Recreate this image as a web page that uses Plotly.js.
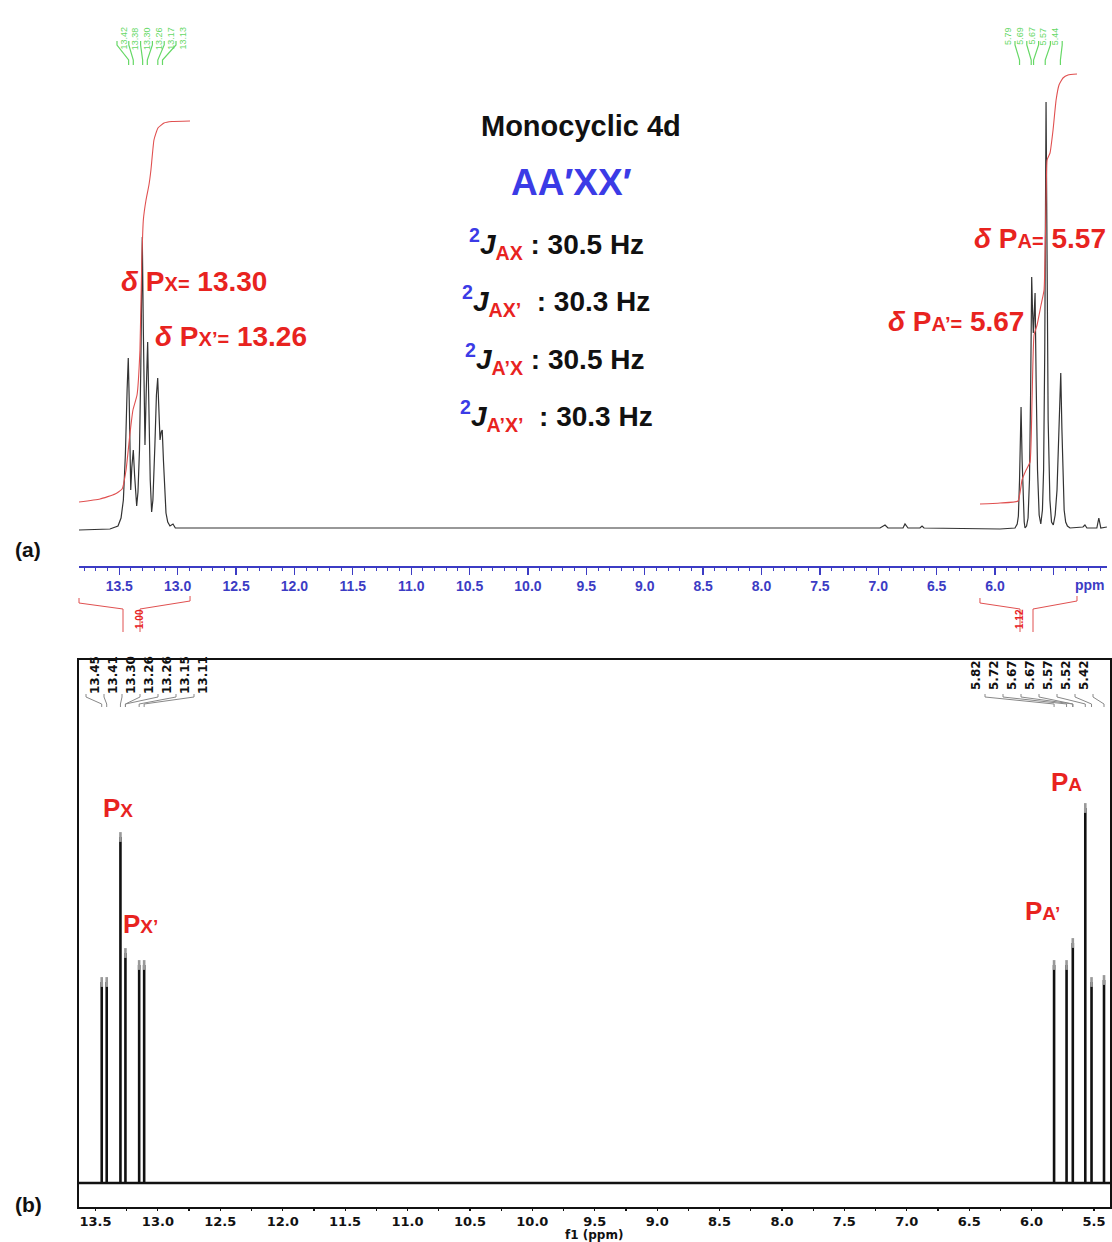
<!DOCTYPE html>
<html><head><meta charset="utf-8">
<script src="https://cdn.plot.ly/plotly-3.0.1.min.js"></script>
<style>html,body{margin:0;padding:0;background:#fff}#chart{width:1112px;height:1242px}</style>
</head><body><div id="chart"></div>
<script>
// ---------- DATA ----------
const specA_ppm = [13.845,13.580,13.511,13.485,13.465,13.448,13.433,13.423,13.415,13.408,13.402,13.393,13.380,13.369,13.358,13.351,13.340,13.327,13.316,13.303,13.294,13.287,13.280,13.270,13.257,13.246,13.235,13.223,13.212,13.195,13.182,13.171,13.161,13.151,13.141,13.132,13.122,13.110,13.100,13.085,13.066,13.040,13.020,12.894,11.952,10.240,8.527,6.985,6.942,6.917,6.788,6.771,6.745,6.643,6.625,6.608,5.957,5.829,5.810,5.800,5.790,5.777,5.768,5.760,5.750,5.743,5.730,5.717,5.705,5.695,5.686,5.679,5.672,5.665,5.657,5.648,5.636,5.622,5.608,5.594,5.584,5.574,5.563,5.553,5.545,5.530,5.516,5.501,5.485,5.469,5.455,5.437,5.427,5.418,5.408,5.395,5.380,5.358,5.247,5.230,5.213,5.128,5.111,5.094,5.042];
const specA_int = [0,1,4,12,30,75,140,172,130,70,40,62,80,55,28,24,38,80,160,293,200,120,85,135,188,120,50,18,30,85,135,152,115,90,98,100,70,35,17,8,4,6,2,2,2,1.5,2,2,5,2,2,6,2,2,4,2,1,2,6,14,50,123,70,30,8,2,4,12,50,140,253,220,197,215,237,150,60,15,6,20,60,180,428,250,110,30,8,5,15,40,95,157,100,50,20,8,4,2,3,5,2,2,12,2,3];
// (a) integral curves
const intL_ppm = [13.845,13.665,13.536,13.476,13.442,13.408,13.383,13.348,13.323,13.308,13.294,13.271,13.246,13.229,13.203,13.169,13.117,13.049,12.894];
const intL_val = [28,31,36,41,60,97,120,135,180,265,310,330,345,360,390,402,407,408.5,409];
const intR_ppm = [6.129,5.957,5.803,5.769,5.734,5.700,5.683,5.666,5.640,5.606,5.580,5.563,5.554,5.529,5.503,5.477,5.452,5.418,5.375,5.298];
const intR_val = [26,27,29,50,60,68,130,195,205,225,240,330,370,377,400,430,445,452,455,456];
const integralValues = ['1.00','1.12'];
// (a) peak picks
const pickA_left  = [13.42,13.38,13.30,13.26,13.17,13.13];
const pickA_right = [5.79,5.69,5.67,5.57,5.44];
const ticksA = [13.5,13.0,12.5,12.0,11.5,11.0,10.5,10.0,9.5,9.0,8.5,8.0,7.5,7.0,6.5,6.0,5.5];
// (b) simulated spectrum lines
const simPpm = [13.45,13.41,13.30,13.26,13.15,13.11,5.82,5.72,5.67,5.57,5.52,5.42];
const simInt = [201,201,346,230,218,218,218,218,240,375,201,203];
const pickB_left  = [13.45,13.41,13.30,13.26,13.26,13.15,13.11];
const pickB_right = [5.82,5.72,5.67,5.67,5.57,5.52,5.42];

// ---------- LAYOUT HELPERS ----------
const W=1112, H=1242;
const px = x => x/W, py = y => 1 - y/H;
const A = {l:79, r:1107, r0:13.845, r1:5.041};
const B = {l:79, r:1110, r0:13.632, r1:5.372};
const axA = p => (A.l + (A.r0-p)/(A.r0-A.r1)*(A.r-A.l))/W;
const axB = p => (B.l + (B.r0-p)/(B.r0-B.r1)*(B.r-B.l))/W;
const RED='#e8231f', BLUE='#3b3be6', AXBLUE='#3c3cc4', GREEN='#66d866';
const FONT='Liberation Sans, Arial, sans-serif';

// ---------- TRACES ----------
const traces = [];
traces.push({x:specA_ppm, y:specA_int, xaxis:'x', yaxis:'y', mode:'lines', line:{color:'#333', width:1.2}, hoverinfo:'skip'});
traces.push({x:intL_ppm, y:intL_val, xaxis:'x', yaxis:'y', mode:'lines', line:{color:'#e05050', width:1.1, shape:'spline', smoothing:0.4}, hoverinfo:'skip'});
traces.push({x:intR_ppm, y:intR_val, xaxis:'x', yaxis:'y', mode:'lines', line:{color:'#e05050', width:1.1, shape:'spline', smoothing:0.4}, hoverinfo:'skip'});
// stick spectrum for (b)
const order = simPpm.map((p,i)=>i).sort((a,b)=>simPpm[b]-simPpm[a]);
const bx=[B.r0], by=[0];
order.forEach(i=>{bx.push(simPpm[i],simPpm[i],simPpm[i]); by.push(0,simInt[i],0);});
bx.push(B.r1); by.push(0);
traces.push({x:bx, y:by, xaxis:'x2', yaxis:'y2', mode:'lines', line:{color:'#111', width:2.6}, hoverinfo:'skip'});
traces.push({x:simPpm, y:simInt, xaxis:'x2', yaxis:'y2', mode:'markers', marker:{symbol:'line-ns', size:7, line:{color:'#999', width:2.6}}, hoverinfo:'skip'});

// ---------- ANNOTATIONS & SHAPES ----------
const ann=[], shapes=[];
function txt(x,y,text,size,color,opts){ ann.push(Object.assign({xref:'paper',yref:'paper',x:px(x),y:py(y),text:text,showarrow:false,xanchor:'center',yanchor:'middle',font:{family:FONT,size:size,color:color}},opts||{})); }
const b = s => '<b>'+s+'</b>';
txt(581,126,b('Monocyclic 4d'),29,'#111');
txt(571,183,b('AA′XX′'),37,BLUE);
const jl = (sub) => b('<sup><span style="color:'+BLUE+'">2</span></sup><i>J</i><sub><span style="color:'+RED+'">'+sub+'</span></sub>');
txt(556,244, jl('AX')+b(' : 30.5 Hz'),28,'#111');
txt(556,301, jl('AX’')+b('  : 30.3 Hz'),28,'#111');
txt(554,359, jl('A’X')+b(' : 30.5 Hz'),28,'#111');
txt(556,416, jl('A’X’')+b('  : 30.3 Hz'),28,'#111');
const dl = (s,v) => b('<i>δ</i> P<span style="font-size:20px">'+s+'=</span> '+v);
txt(194,281, dl('X','13.30'),28,RED);
txt(231,336, dl('X’','13.26'),28,RED);
txt(1040,239, dl('A','5.57'),28,RED);
txt(956,321, dl('A’','5.67'),28,RED);
txt(28,549,b('(a)'),21,'#111');
txt(28,1204,b('(b)'),21,'#111');
const pl = s => b('P<span style="font-size:19px">'+s+'</span>');
txt(118,808,pl('X'),26,RED);
txt(140,924,pl('X’'),26,RED);
txt(1066,782,pl('A'),26,RED);
txt(1042,911,pl('A’'),26,RED);
txt(1090,585,b('ppm'),14,AXBLUE);
txt(594,1235,b('f1 (ppm)'),12,'#111',{font:{family:'DejaVu Sans, sans-serif',size:12,color:'#111'}});

// green peak picks (a)
function pickA(list, x0){
  list.forEach((p,i)=>{
    const lx = x0 + i*11.8;
    ann.push({xref:'paper',yref:'paper',x:px(lx),y:py(25),text:p.toFixed(2),showarrow:false,textangle:-90,font:{family:FONT,size:9,color:GREEN}});
    shapes.push({type:'path',xref:'paper',yref:'paper',path:`M${px(lx)},${py(41)} L${px(lx)},${py(45)} L${axA(p)},${py(60)} L${axA(p)},${py(65)}`,line:{color:GREEN,width:1.2}});
  });
}
pickA(pickA_left,117); pickA(pickA_right,1015);
// black peak picks (b)
function pickB(list, x0){
  list.forEach((p,i)=>{
    const lx = x0 + i*18;
    ann.push({xref:'paper',yref:'paper',x:px(lx),y:py(675),text:'<b>'+p.toFixed(2)+'</b>',showarrow:false,textangle:-90,font:{family:'DejaVu Sans, sans-serif',size:12,color:'#111'}});
    shapes.push({type:'path',xref:'paper',yref:'paper',path:`M${px(lx)},${py(694)} L${px(lx)},${py(697)} L${axB(p)},${py(704)} L${axB(p)},${py(707)}`,line:{color:'#888',width:1}});
  });
}
pickB(pickB_left,86); pickB(pickB_right,985);

// integral brackets (a)
function bracket(pL, pR, xs1, xs2, label){
  const xl=axA(pL), xr=axA(pR), a=px(xs1), c=px(xs2);
  shapes.push({type:'path',xref:'paper',yref:'paper',path:`M${xl},${py(598)} L${xl},${py(603)} L${a},${py(609)} L${a},${py(632)}`,line:{color:'#e05050',width:1}});
  shapes.push({type:'path',xref:'paper',yref:'paper',path:`M${c},${py(632)} L${c},${py(609)} L${xr},${py(601)} L${xr},${py(596)}`,line:{color:'#e05050',width:1}});
  ann.push({xref:'paper',yref:'paper',x:(a+c)/2,y:py(619),text:'<b>'+label+'</b>',showarrow:false,textangle:-90,font:{family:FONT,size:10,color:RED}});
}
bracket(intL_ppm[0], intL_ppm[intL_ppm.length-1], 123, 140, integralValues[0]);
bracket(intR_ppm[0], intR_ppm[intR_ppm.length-1], 1020, 1033, integralValues[1]);

const layout = {
  width:W, height:H, margin:{l:0,r:0,t:0,b:0}, showlegend:false,
  paper_bgcolor:'#fff', plot_bgcolor:'rgba(0,0,0,0)',
  xaxis:{domain:[px(A.l),px(A.r)], range:[A.r0,A.r1], anchor:'y', showgrid:false, zeroline:false,
    showline:true, linecolor:AXBLUE, linewidth:1.5, ticks:'outside', ticklen:7, tickwidth:1.3, tickcolor:AXBLUE,
    tickmode:'array', tickvals:ticksA, ticktext:ticksA.map(v=>v===5.5?' ':v.toFixed(1)),
    tickfont:{family:FONT,size:14,color:AXBLUE,weight:'bold'},
    minor:{tickmode:'linear',tick0:0,dtick:0.1,ticklen:3,tickcolor:AXBLUE,tickwidth:1,showgrid:false}},
  yaxis:{domain:[py(566),1], range:[-36,530], visible:false, fixedrange:true},
  xaxis2:{domain:[px(B.l),px(B.r)], range:[B.r0,B.r1], anchor:'y2', showgrid:false, zeroline:false,
    showline:true, mirror:true, linecolor:'#111', linewidth:1.6, ticks:'outside', ticklen:2, tickwidth:1.2, tickcolor:'#111',
    tickmode:'linear', tick0:0, dtick:0.5, tickformat:'.1f',
    tickfont:{family:'DejaVu Sans, sans-serif',size:13,color:'#111',weight:'bold'},
    minor:{tickmode:'linear',tick0:0,dtick:0.25,ticklen:2,tickcolor:'#111',showgrid:false}},
  yaxis2:{domain:[py(1207),py(660)], range:[-24,523], anchor:'x2', showgrid:false, zeroline:false, showticklabels:false,
    ticks:'', showline:true, mirror:true, linecolor:'#111', linewidth:1.6},
  annotations:ann, shapes:shapes
};
Plotly.newPlot('chart', traces, layout, {staticPlot:true});
</script></body></html>
